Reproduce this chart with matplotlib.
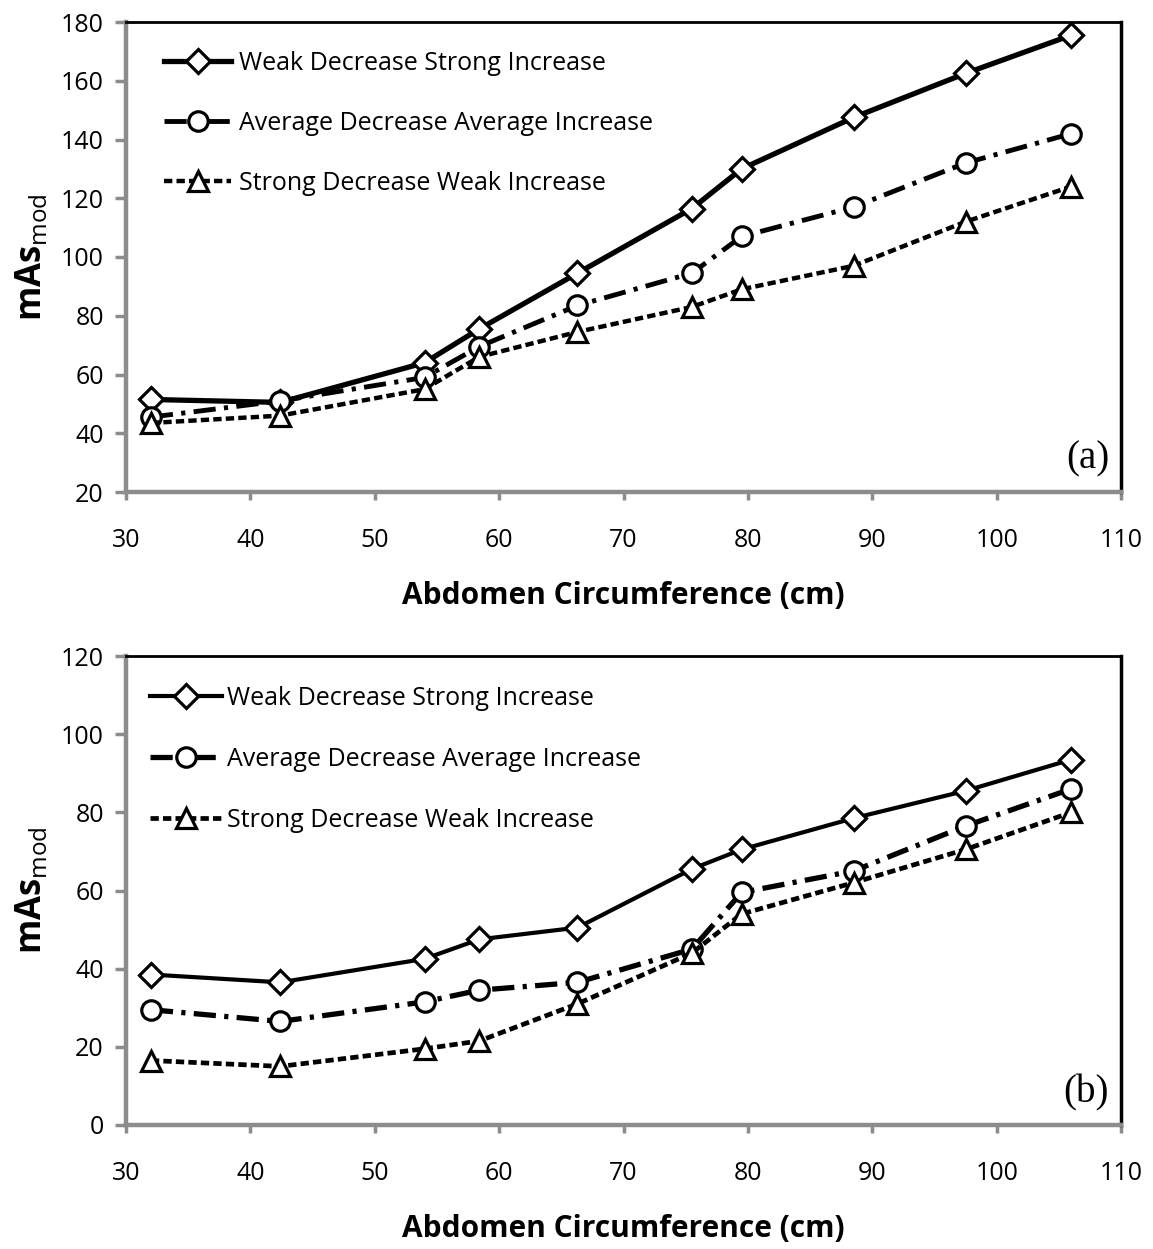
import numpy as np
import matplotlib
matplotlib.use("Agg")
import matplotlib.pyplot as plt

plt.rcParams['font.family'] = ['Open Sans', 'DejaVu Sans']
plt.rcParams['mathtext.fontset'] = 'custom'
plt.rcParams['mathtext.rm'] = 'Open Sans'
plt.rcParams['lines.scale_dashes'] = False

# abdomen circumference (cm)
circ = [32, 42.4, 54, 58.4, 66.3, 75.5, 79.5, 88.5, 97.5, 106]

labels = ['Weak Decrease Strong Increase',
          'Average Decrease Average Increase',
          'Strong Decrease Weak Increase']

# panel (a)
a_weak = [51.5, 50.5, 64, 75.5, 94.5, 116.5, 130, 147.5, 162.5, 175.5]
a_avg = [45.5, 51, 59, 69.5, 83.5, 94.5, 107, 117, 132, 142]
a_strong = [43.5, 46, 55, 66, 74.5, 83, 89, 97, 112, 124]

# panel (b)
b_weak = [38.5, 36.5, 42.5, 47.5, 50.5, 65.5, 70.5, 78.5, 85.5, 93.5]
b_avg = [29.5, 26.5, 31.5, 34.5, 36.5, 45, 59.5, 65, 76.5, 86]
b_strong = [16.5, 15, 19.5, 21.5, 31, 44, 54, 62, 70.5, 80]

W, H = 1153, 1249
fig = plt.figure(figsize=(W / 100, H / 100), dpi=100)

gray = '#8c8c8c'


def style_axes(ax, ylim, yticks):
    ax.set_xlim(30, 110)
    ax.set_xticks(np.arange(30, 111, 10))
    ax.set_ylim(*ylim)
    ax.set_yticks(yticks)
    for s in ['left', 'bottom']:
        ax.spines[s].set_color(gray)
        ax.spines[s].set_linewidth(3.2)
    ax.spines['top'].set_color('black')
    ax.spines['top'].set_linewidth(2.0)
    ax.spines['right'].set_color('black')
    ax.spines['right'].set_linewidth(2.5)
    ax.tick_params(axis='both', direction='out', color=gray, width=2.5,
                   labelsize=18, pad=8)
    ax.tick_params(axis='y', length=8)
    ax.tick_params(axis='x', length=6, pad=20)
    ax.set_xlabel('Abdomen Circumference (cm)', fontsize=21.5,
                  fontweight='bold', labelpad=20)
    ax.set_ylabel(r'mAs$_{\mathrm{mod}}$', fontsize=25, fontweight='bold',
                  labelpad=8)


mk = dict(markerfacecolor='white', markeredgecolor='black', color='black',
          markeredgewidth=2.3)

# ---- panel (a)
ax1 = fig.add_axes([126 / W, 1 - 492 / H, 995 / W, 470 / H])
ax1.plot(circ, a_weak, '-', lw=3.8, marker='D', markersize=12, label=labels[0], **mk)
ax1.plot(circ, a_avg, lw=3.5, dashes=(16, 6, 3, 6), marker='o', markersize=14,
         label=labels[1], **mk)
ax1.plot(circ, a_strong, lw=3.2, dashes=(6, 3), marker='^', markersize=14,
         label=labels[2], **mk)
style_axes(ax1, (20, 180), np.arange(20, 181, 20))
ax1.legend(loc='upper left', bbox_to_anchor=(0.038, 0.939), frameon=False,
           fontsize=18, handlelength=2.7, handletextpad=0.3,
           labelspacing=1.4, borderpad=0, borderaxespad=0)
ax1.text(0.988, 0.03, '(a)', transform=ax1.transAxes, ha='right', va='bottom',
         fontsize=28, family='Liberation Serif')

# ---- panel (b)
ax2 = fig.add_axes([126 / W, 1 - 1125 / H, 995 / W, 469 / H])
ax2.plot(circ, b_weak, '-', lw=3.0, marker='D', markersize=12, label=labels[0], **mk)
ax2.plot(circ, b_avg, lw=3.8, dashes=(16, 6, 3, 6), marker='o', markersize=14,
         label=labels[1], **mk)
ax2.plot(circ, b_strong, lw=3.4, dashes=(6, 3), marker='^', markersize=14,
         label=labels[2], **mk)
style_axes(ax2, (0, 120), np.arange(0, 121, 20))
ax2.legend(loc='upper left', bbox_to_anchor=(0.024, 0.937), frameon=False,
           fontsize=18, handlelength=2.9, handletextpad=0.2,
           labelspacing=1.45, borderpad=0, borderaxespad=0)
ax2.text(0.988, 0.03, '(b)', transform=ax2.transAxes, ha='right', va='bottom',
         fontsize=28, family='Liberation Serif')

fig.savefig('out.png', dpi=100)
